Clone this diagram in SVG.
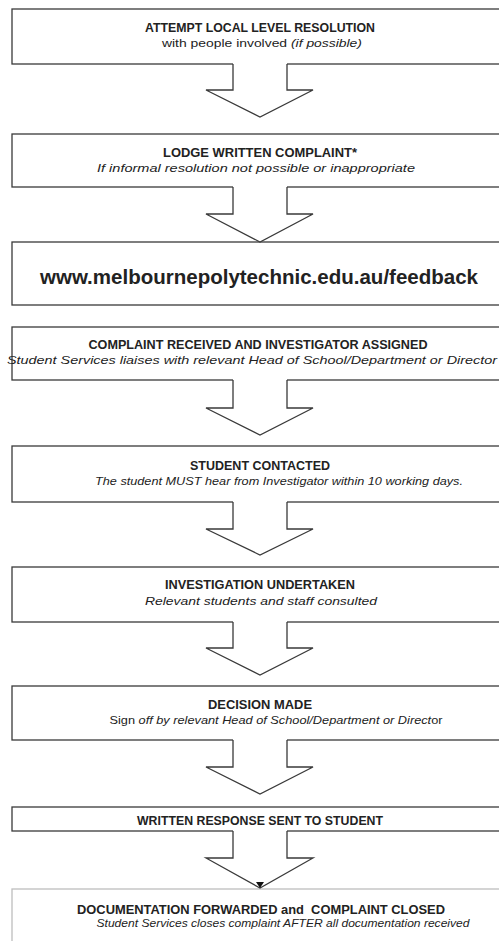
<svg xmlns="http://www.w3.org/2000/svg" width="499" height="941" viewBox="0 0 499 941">
<defs>
<style>
.box{fill:#fff;stroke:#3a3a3a;stroke-width:1.3}
.box9{fill:#fff;stroke:#bdbdbd;stroke-width:1.3}
.af{fill:#fff;stroke:none}
.as{fill:none;stroke:#3a3a3a;stroke-width:1.3;stroke-linejoin:miter}
text{font-family:"Liberation Sans",Arial,sans-serif;fill:#222;text-anchor:middle}
.t{font-size:12px;font-weight:bold}
.s{font-size:11.5px;font-style:italic}
.n{font-style:normal}
.url{font-size:20px;font-weight:bold}
</style>
</defs>
<rect width="499" height="941" fill="#fff"/>
<g id="node1"><rect class="box" x="12" y="9" width="500" height="55"/>
<text class="t" x="260" y="32" textLength="230" lengthAdjust="spacingAndGlyphs">ATTEMPT LOCAL LEVEL RESOLUTION</text>
<text class="s" x="262" y="47" textLength="200" lengthAdjust="spacingAndGlyphs"><tspan class="n">with people involved </tspan>(if possible)</text></g>
<g id="node2"><rect class="box" x="12" y="134" width="500" height="53"/>
<text class="t" x="260" y="157" textLength="194" lengthAdjust="spacingAndGlyphs">LODGE WRITTEN COMPLAINT*</text>
<text class="s" x="256" y="172" textLength="318" lengthAdjust="spacingAndGlyphs">If informal resolution not possible or inappropriate</text></g>
<g id="node3"><rect class="box" x="12" y="242" width="500" height="63"/>
<text class="url" x="259" y="284" textLength="438" lengthAdjust="spacingAndGlyphs">www.melbournepolytechnic.edu.au/feedback</text></g>
<g id="node4"><rect class="box" x="12" y="327" width="500" height="53"/>
<text class="t" x="258" y="349" textLength="339" lengthAdjust="spacingAndGlyphs">COMPLAINT RECEIVED AND INVESTIGATOR ASSIGNED</text>
<text class="s" x="252" y="364" textLength="490" lengthAdjust="spacingAndGlyphs">Student Services liaises with relevant Head of School/Department or Director</text></g>
<g id="node5"><rect class="box" x="12" y="446" width="500" height="56"/>
<text class="t" x="260" y="470" textLength="140" lengthAdjust="spacingAndGlyphs">STUDENT CONTACTED</text>
<text class="s" x="279" y="485" textLength="368" lengthAdjust="spacingAndGlyphs">The student MUST hear from Investigator within 10 working days.</text></g>
<g id="node6"><rect class="box" x="12" y="567" width="500" height="55"/>
<text class="t" x="260" y="589" textLength="190" lengthAdjust="spacingAndGlyphs">INVESTIGATION UNDERTAKEN</text>
<text class="s" x="261" y="605" textLength="232" lengthAdjust="spacingAndGlyphs">Relevant students and staff consulted</text></g>
<g id="node7"><rect class="box" x="12" y="686" width="500" height="54"/>
<text class="t" x="260" y="709" textLength="104" lengthAdjust="spacingAndGlyphs">DECISION MADE</text>
<text class="s" x="276" y="724" textLength="333" lengthAdjust="spacingAndGlyphs"><tspan class="n">Sign </tspan>off by relevant Head of School/Department or Direct<tspan class="n">or</tspan></text></g>
<g id="node8"><rect class="box" x="12" y="807" width="500" height="24"/>
<text class="t" x="260" y="825" textLength="246" lengthAdjust="spacingAndGlyphs">WRITTEN RESPONSE SENT TO STUDENT</text></g>
<g id="node9"><rect class="box9" x="12" y="889" width="500" height="70"/>
<text class="t" x="261" y="914" textLength="368" lengthAdjust="spacingAndGlyphs">DOCUMENTATION FORWARDED and &#160;COMPLAINT CLOSED</text>
<text class="s" x="283" y="927" textLength="373" lengthAdjust="spacingAndGlyphs">Student Services closes complaint AFTER all documentation received</text></g>
<g id="connectors">
<polygon class="af" points="233,62 287,62 287,90 313,90 260,117 206,90 233,90"/>
<polyline class="as" points="233,64 233,90 206,90 260,117 313,90 287,90 287,64"/>
<polygon class="af" points="233,185 287,185 287,214 313,214 260,242 206,214 233,214"/>
<polyline class="as" points="233,187 233,214 206,214 260,242 313,214 287,214 287,187"/>
<polygon class="af" points="233,378 287,378 287,408 313,408 260,435 206,408 233,408"/>
<polyline class="as" points="233,380 233,408 206,408 260,435 313,408 287,408 287,380"/>
<polygon class="af" points="233,500 287,500 287,529 313,529 260,555 206,529 233,529"/>
<polyline class="as" points="233,502 233,529 206,529 260,555 313,529 287,529 287,502"/>
<polygon class="af" points="233,620 287,620 287,648 313,648 260,675 206,648 233,648"/>
<polyline class="as" points="233,622 233,648 206,648 260,675 313,648 287,648 287,622"/>
<polygon class="af" points="233,738 287,738 287,767 313,767 260,794 206,767 233,767"/>
<polyline class="as" points="233,740 233,767 206,767 260,794 313,767 287,767 287,740"/>
<polygon class="af" points="233,829 287,829 287,858 313,858 260,888 206,858 233,858"/>
<polyline class="as" points="233,831 233,858 206,858 260,888 313,858 287,858 287,831"/>
<polygon points="256,882 264,882 260,888" fill="#111"/>
</g>
</svg>
